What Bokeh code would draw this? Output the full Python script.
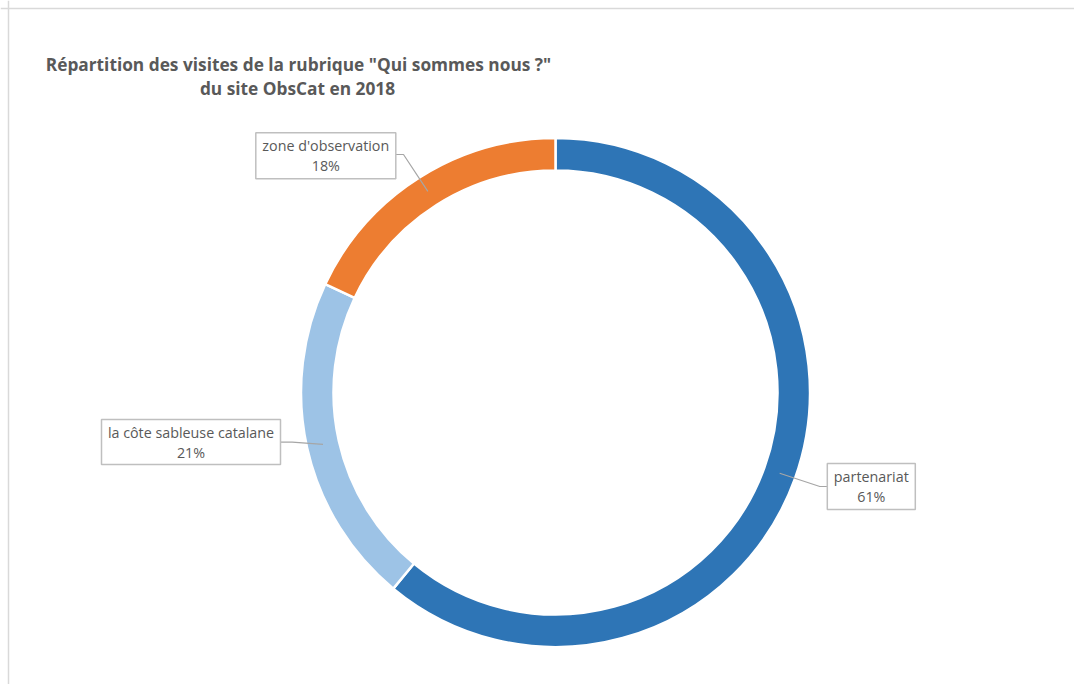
import math
from bokeh.plotting import figure
from bokeh.models import Range1d, ColumnDataSource, Span
from bokeh.core.properties import value
from bokeh.embed import file_html
from bokeh.resources import INLINE

# ---- data ----
categories = ["partenariat", "la côte sableuse catalane", "zone d'observation"]
shares = [61, 21, 18]
colors = ["#2E75B6", "#9DC3E6", "#ED7D31"]
title_lines = ['Répartition des visites de la rubrique "Qui sommes nous ?"',
               "du site ObsCat en 2018"]

# ---- layout: positions given in screen pixels (y down), converted below ----
W, H = 1074, 684


def X(x):
    return x


def Y(y):
    return H - y


cx, cy = X(555), Y(392)
r_out, r_in = 254.5, 222
FONT = "Open Sans"
TXT = "#595959"

p = figure(width=W, height=H, x_range=Range1d(0, W), y_range=Range1d(0, H),
           output_backend="svg", toolbar_location=None, min_border=0,
           background_fill_color="white", border_fill_color="white")
p.axis.visible = False
p.grid.visible = False
p.outline_line_color = None

# chart-area border (top and left visible in the reference)
p.add_layout(Span(location=Y(8), dimension="width", line_color="#d9d9d9", line_width=1.5))
p.add_layout(Span(location=X(8), dimension="height", line_color="#d9d9d9", line_width=1.5))

# ---- donut ----
total = sum(shares)
starts, ends, mids = [], [], []
acc = 0.0
for v in shares:
    a0 = math.pi / 2 - 2 * math.pi * acc / total
    acc += v
    a1 = math.pi / 2 - 2 * math.pi * acc / total
    starts.append(a0)
    ends.append(a1)
    mids.append((a0 + a1) / 2)

src = ColumnDataSource(dict(start=starts, end=ends, color=colors, cat=categories))
p.annular_wedge(x=cx, y=cy, inner_radius=r_in, outer_radius=r_out,
                start_angle="start", end_angle="end", direction="clock",
                fill_color="color", line_color="white", line_width=2.5, source=src)

# ---- title ----
p.text(x=[X(298), X(297)], y=[Y(64), Y(88)], text=title_lines, text_align="center",
       text_baseline="middle", text_font=value(FONT), text_font_style="bold",
       text_font_size="17.3px", text_color=TXT)

# ---- data labels ----
# box centre, box size, elbow point, box-edge point (screen px, per category)
boxes = [
    dict(c=(870.8, 486), w=88, h=46, elbow=(819.3, 486), edge=(826.7, 486)),
    dict(c=(190.5, 441.5), w=179, h=45, elbow=(291.7, 441.7), edge=(280, 441.7)),
    dict(c=(325.3, 155.3), w=140, h=46, elbow=(403, 154), edge=(395.5, 154)),
]
r_mid = (r_in + r_out) / 2
for cat, v, b, m in zip(categories, shares, boxes, mids):
    ax, ay = cx + r_mid * math.cos(m), cy + r_mid * math.sin(m)
    p.line(x=[ax, X(b["elbow"][0]), X(b["edge"][0])],
           y=[ay, Y(b["elbow"][1]), Y(b["edge"][1])],
           line_color="#a6a6a6", line_width=1.2)
    p.rect(x=X(b["c"][0]), y=Y(b["c"][1]), width=b["w"], height=b["h"],
           fill_color="white", line_color="#bfbfbf", line_width=1.5)
    pct = f"{round(100 * v / total)}%"
    p.text(x=[X(b["c"][0])] * 2, y=[Y(b["c"][1] - 10), Y(b["c"][1] + 10)],
           text=[cat, pct], text_align="center", text_baseline="middle",
           text_font=value(FONT), text_font_size="14.3px", text_color=TXT)

open("out.html", "w").write(file_html(p, INLINE))
